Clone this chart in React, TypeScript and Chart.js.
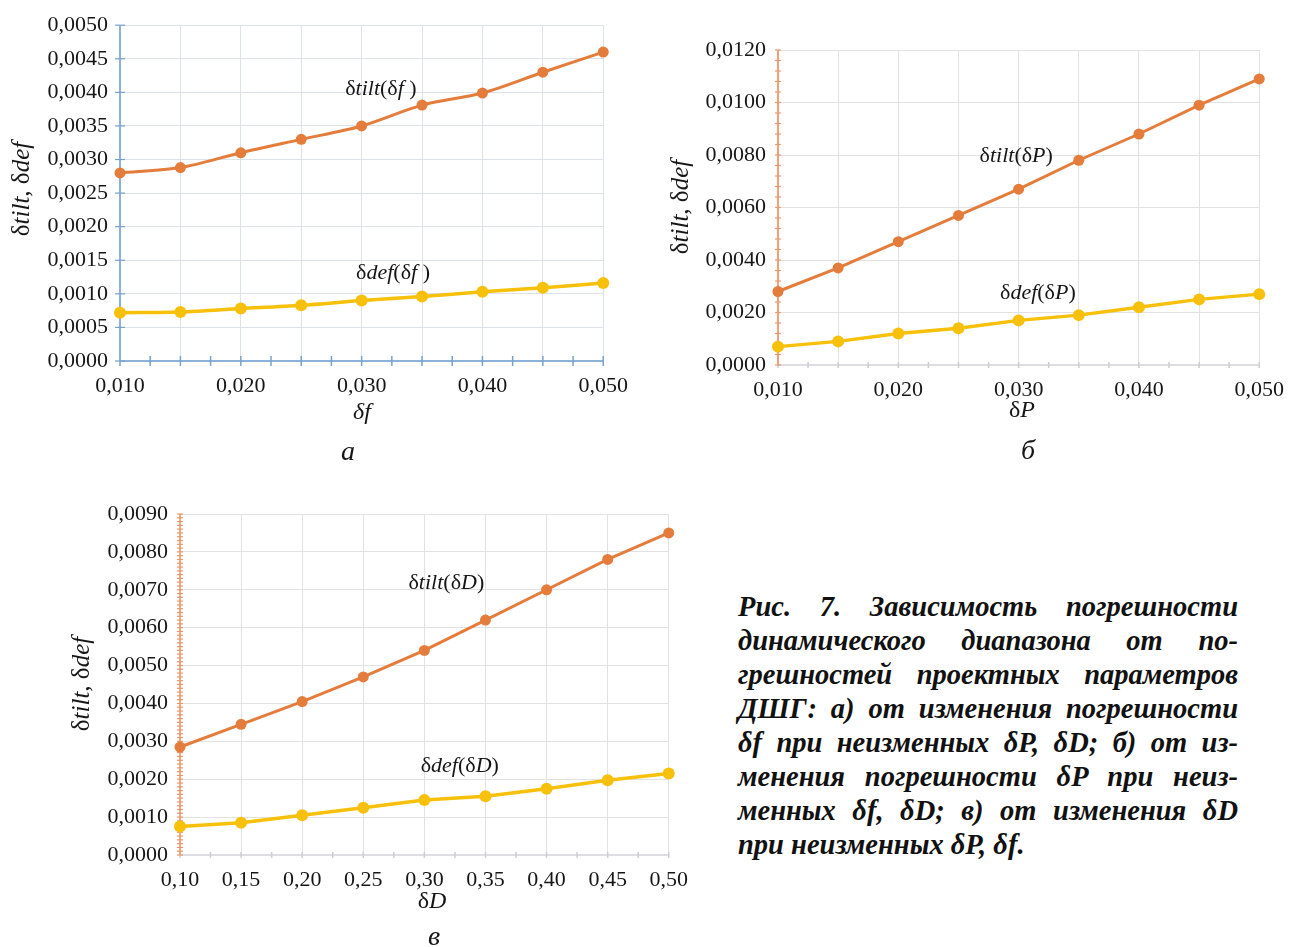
import React, { useEffect, useRef } from 'react';
import { Chart, registerables } from 'chart.js';
Chart.register(...registerables);

const FONT = '"Liberation Serif", "Times New Roman", serif';
const TILT_COLOR = 'rgb(228,124,60)';
const DEF_COLOR = 'rgb(247,192,10)';

// ---- Chart а: δtilt(δf), δdef(δf)
const A_X = [0.010, 0.015, 0.020, 0.025, 0.030, 0.035, 0.040, 0.045, 0.050];
const A_TILT = [0.0028, 0.00288, 0.0031, 0.0033, 0.0035, 0.00381, 0.00399, 0.0043, 0.0046];
const A_DEF = [0.00072, 0.00073, 0.00078, 0.00083, 0.0009, 0.00096, 0.00103, 0.00109, 0.00116];
const A_X_GRID = [0.010, 0.015, 0.020, 0.025, 0.030, 0.035, 0.040, 0.045, 0.050];
const A_X_LABELS = [0.010, 0.020, 0.030, 0.040, 0.050];
const A_Y_TICKS = [0, 0.0005, 0.001, 0.0015, 0.002, 0.0025, 0.003, 0.0035, 0.004, 0.0045, 0.005];

// ---- Chart б: δtilt(δP), δdef(δP)
const B_X = [0.010, 0.015, 0.020, 0.025, 0.030, 0.035, 0.040, 0.045, 0.050];
const B_TILT = [0.0028, 0.0037, 0.0047, 0.0057, 0.0067, 0.0078, 0.0088, 0.0099, 0.0109];
const B_DEF = [0.0007, 0.0009, 0.0012, 0.0014, 0.0017, 0.0019, 0.0022, 0.0025, 0.0027];
const B_X_GRID = [0.010, 0.015, 0.020, 0.025, 0.030, 0.035, 0.040, 0.045, 0.050];
const B_X_LABELS = [0.010, 0.020, 0.030, 0.040, 0.050];
const B_Y_TICKS = [0, 0.002, 0.004, 0.006, 0.008, 0.010, 0.012];

// ---- Chart в: δtilt(δD), δdef(δD)
const C_X = [0.10, 0.15, 0.20, 0.25, 0.30, 0.35, 0.40, 0.45, 0.50];
const C_TILT = [0.00285, 0.00345, 0.00405, 0.0047, 0.0054, 0.0062, 0.0070, 0.0078, 0.0085];
const C_DEF = [0.00075, 0.00085, 0.00105, 0.00125, 0.00145, 0.00155, 0.00175, 0.00197, 0.00215];
const C_X_GRID = [0.10, 0.15, 0.20, 0.25, 0.30, 0.35, 0.40, 0.45, 0.50];
const C_X_LABELS = [0.10, 0.15, 0.20, 0.25, 0.30, 0.35, 0.40, 0.45, 0.50];
const C_Y_TICKS = [0, 0.001, 0.002, 0.003, 0.004, 0.005, 0.006, 0.007, 0.008, 0.009];

const CAPTION_LINES = [
  'Рис. 7.  Зависимость  погрешности',
  'динамического  диапазона  от  по-',
  'грешностей проектных параметров',
  'ДШГ: а) от изменения погрешности',
  'δf при неизменных δP, δD; б) от из-',
  'менения погрешности δP при неиз-',
  'менных δf, δD; в) от изменения δD',
  'при неизменных δP, δf.',
];

type Run = { t: string; i?: boolean };

function drawRich(ctx: CanvasRenderingContext2D, runs: Run[], x: number, y: number, size: number, rotate = false) {
  ctx.save();
  ctx.translate(x, y);
  if (rotate) ctx.rotate(-Math.PI / 2);
  const fonts = runs.map((r) => `${r.i ? 'italic ' : ''}${size}px ${FONT}`);
  let total = 0;
  const widths = runs.map((r, k) => {
    ctx.font = fonts[k];
    const w = ctx.measureText(r.t).width;
    total += w;
    return w;
  });
  let cx = -total / 2;
  ctx.textBaseline = 'middle';
  ctx.textAlign = 'left';
  ctx.fillStyle = '#161616';
  runs.forEach((r, k) => {
    ctx.font = fonts[k];
    ctx.fillText(r.t, cx, 0);
    cx += widths[k];
  });
  ctx.restore();
}

const near = (v: number, list: number[]) => list.some((u) => Math.abs(u - v) < 1e-9);

type Cfg = {
  left: number; top: number; width: number; height: number;
  pad: { top: number; right: number; left: number; bottom: number };
  yW: number; xH: number;
  xs: number[]; tilt: number[]; def: number[];
  xGrid: number[]; xLabels: number[]; yTicks: number[];
  xMin: number; xMax: number; yMin: number; yMax: number;
  xDigits: number;
  yMinorStep: number; xMinorStep: number;
  yAxisColor: string; xAxisColor: string; xTickColor: string; yTickColor: string;
  yTickLen: number; xTickLen: number;
  gridColor: string;
  tension: number;
  notes: { x: number; y: number; runs: Run[] }[];
  yTitle: { x: number; y: number };
  xTitle: { x: number; y: number; runs: Run[] };
  sub: { x: number; y: number; t: string };
};

const YTITLE: Run[] = [{ t: 'δ' }, { t: 'tilt', i: true }, { t: ', δ' }, { t: 'def', i: true }];

const A: Cfg = {
  left: 0, top: 0, width: 640, height: 470,
  pad: { top: 17, right: 36, left: 0, bottom: 0 }, yW: 120, xH: 109,
  xs: A_X, tilt: A_TILT, def: A_DEF, xGrid: A_X_GRID, xLabels: A_X_LABELS, yTicks: A_Y_TICKS,
  xMin: 0.01, xMax: 0.05, yMin: 0, yMax: 0.005, xDigits: 3,
  yMinorStep: 0.0005, xMinorStep: 0.0025,
  yAxisColor: 'rgb(140,178,218)', xAxisColor: 'rgb(140,178,218)',
  yTickColor: 'rgb(120,160,205)', xTickColor: 'rgb(120,160,205)', yTickLen: 5, xTickLen: 5,
  gridColor: 'rgb(220,225,234)', tension: 0.3,
  notes: [
    { x: 0.0316, y: 0.00404, runs: [{ t: 'δ' }, { t: 'tilt', i: true }, { t: '(δ' }, { t: 'f', i: true }, { t: ' )' }] },
    { x: 0.0326, y: 0.00131, runs: [{ t: 'δ' }, { t: 'def', i: true }, { t: '(δ' }, { t: 'f', i: true }, { t: ' )' }] },
  ],
  yTitle: { x: 22, y: 189 },
  xTitle: { x: 362, y: 413, runs: [{ t: 'δ', i: true }, { t: 'f', i: true }] },
  sub: { x: 348, y: 453, t: 'а' },
};

const B: Cfg = {
  left: 650, top: 0, width: 646, height: 470,
  pad: { top: 50, right: 31, left: 0, bottom: 0 }, yW: 128, xH: 105,
  xs: B_X, tilt: B_TILT, def: B_DEF, xGrid: B_X_GRID, xLabels: B_X_LABELS, yTicks: B_Y_TICKS,
  xMin: 0.01, xMax: 0.05, yMin: 0, yMax: 0.012, xDigits: 3,
  yMinorStep: 0.0004, xMinorStep: 0.0025,
  yAxisColor: 'rgb(242,160,120)', xAxisColor: 'rgb(222,222,226)',
  yTickColor: 'rgb(236,150,110)', xTickColor: 'rgb(205,205,210)', yTickLen: 3, xTickLen: 3,
  gridColor: 'rgb(226,226,228)', tension: 0,
  notes: [
    { x: 0.0298, y: 0.00795, runs: [{ t: 'δ' }, { t: 'tilt', i: true }, { t: '(δ' }, { t: 'P', i: true }, { t: ')' }] },
    { x: 0.0316, y: 0.00272, runs: [{ t: 'δ' }, { t: 'def', i: true }, { t: '(δ' }, { t: 'P', i: true }, { t: ')' }] },
  ],
  yTitle: { x: 31, y: 207 },
  xTitle: { x: 372, y: 411, runs: [{ t: 'δ' }, { t: 'P', i: true }] },
  sub: { x: 378, y: 452, t: 'б' },
};

const C: Cfg = {
  left: 60, top: 480, width: 640, height: 467,
  pad: { top: 34, right: 31, left: 0, bottom: 0 }, yW: 120, xH: 92,
  xs: C_X, tilt: C_TILT, def: C_DEF, xGrid: C_X_GRID, xLabels: C_X_LABELS, yTicks: C_Y_TICKS,
  xMin: 0.1, xMax: 0.5, yMin: 0, yMax: 0.009, xDigits: 2,
  yMinorStep: 0.0001, xMinorStep: 0.025,
  yAxisColor: 'rgb(244,168,128)', xAxisColor: 'rgb(222,222,226)',
  yTickColor: 'rgb(236,150,110)', xTickColor: 'rgb(205,205,210)', yTickLen: 3, xTickLen: 3,
  gridColor: 'rgb(226,226,228)', tension: 0,
  notes: [
    { x: 0.318, y: 0.00718, runs: [{ t: 'δ' }, { t: 'tilt', i: true }, { t: '(δ' }, { t: 'D', i: true }, { t: ')' }] },
    { x: 0.329, y: 0.00235, runs: [{ t: 'δ' }, { t: 'def', i: true }, { t: '(δ' }, { t: 'D', i: true }, { t: ')' }] },
  ],
  yTitle: { x: 22, y: 204 },
  xTitle: { x: 372, y: 422, runs: [{ t: 'δ' }, { t: 'D', i: true }] },
  sub: { x: 374, y: 458, t: 'в' },
};

function Panel({ cfg }: { cfg: Cfg }) {
  const ref = useRef<HTMLCanvasElement>(null);
  useEffect(() => {
    const canvas = ref.current!;
    const line = (ctx: CanvasRenderingContext2D, x1: number, y1: number, x2: number, y2: number) => {
      ctx.beginPath();
      ctx.moveTo(x1, y1);
      ctx.lineTo(x2, y2);
      ctx.stroke();
    };
    const axesPlugin = {
      id: 'axesDeco',
      beforeDatasetsDraw(chart: any) {
        const ctx = chart.ctx as CanvasRenderingContext2D;
        const { left, right, top, bottom } = chart.chartArea;
        const xs = chart.scales.x, ys = chart.scales.y;
        ctx.save();
        ctx.strokeStyle = cfg.xAxisColor;
        ctx.lineWidth = 2;
        line(ctx, left, bottom, right, bottom);
        ctx.strokeStyle = cfg.xTickColor;
        ctx.lineWidth = 1.5;
        const nx = Math.round((cfg.xMax - cfg.xMin) / cfg.xMinorStep);
        for (let k = 0; k <= nx; k++) {
          const px = xs.getPixelForValue(cfg.xMin + k * cfg.xMinorStep);
          line(ctx, px, bottom - cfg.xTickLen, px, bottom + cfg.xTickLen);
        }
        ctx.strokeStyle = cfg.yAxisColor;
        ctx.lineWidth = 2;
        line(ctx, left, top, left, bottom);
        ctx.strokeStyle = cfg.yTickColor;
        ctx.lineWidth = 1.2;
        const ny = Math.round((cfg.yMax - cfg.yMin) / cfg.yMinorStep);
        for (let k = 0; k <= ny; k++) {
          const py = ys.getPixelForValue(cfg.yMin + k * cfg.yMinorStep);
          line(ctx, left - cfg.yTickLen, py, left + cfg.yTickLen, py);
        }
        ctx.restore();
      },
      afterDraw(chart: any) {
        const ctx = chart.ctx as CanvasRenderingContext2D;
        const xs = chart.scales.x, ys = chart.scales.y;
        cfg.notes.forEach((n) => drawRich(ctx, n.runs, xs.getPixelForValue(n.x), ys.getPixelForValue(n.y), 22));
        drawRich(ctx, YTITLE, cfg.yTitle.x, cfg.yTitle.y, 25, true);
        drawRich(ctx, cfg.xTitle.runs, cfg.xTitle.x, cfg.xTitle.y, 24);
        drawRich(ctx, [{ t: cfg.sub.t, i: true }], cfg.sub.x, cfg.sub.y, 28);
      },
    };
    const mk = (vals: number[]) => cfg.xs.map((x, i) => ({ x, y: vals[i] }));
    const chart = new Chart(canvas, {
      type: 'line',
      data: {
        datasets: [
          {
            data: mk(cfg.tilt), borderColor: TILT_COLOR, backgroundColor: TILT_COLOR,
            borderWidth: 3, pointRadius: 5.5, pointBorderWidth: 0, tension: cfg.tension, clip: false,
          } as any,
          {
            data: mk(cfg.def), borderColor: DEF_COLOR, backgroundColor: DEF_COLOR,
            borderWidth: 3.5, pointRadius: 6, pointBorderWidth: 0, tension: cfg.tension, clip: false,
          } as any,
        ],
      },
      options: {
        responsive: false,
        animation: false,
        devicePixelRatio: 1,
        layout: { padding: cfg.pad },
        plugins: { legend: { display: false }, tooltip: { enabled: false } },
        scales: {
          x: {
            type: 'linear', min: cfg.xMin, max: cfg.xMax,
            afterBuildTicks: (s: any) => { s.ticks = cfg.xGrid.map((v) => ({ value: v })); },
            afterFit: (s: any) => { s.height = cfg.xH; },
            border: { display: false },
            grid: { color: cfg.gridColor, lineWidth: 1, drawTicks: false },
            ticks: {
              autoSkip: false, maxRotation: 0, padding: 12, color: '#161616',
              font: { family: FONT, size: 22 },
              callback: (v: any) => (near(Number(v), cfg.xLabels) ? Number(v).toFixed(cfg.xDigits).replace('.', ',') : ''),
            },
          },
          y: {
            type: 'linear', min: cfg.yMin, max: cfg.yMax,
            afterBuildTicks: (s: any) => { s.ticks = cfg.yTicks.map((v) => ({ value: v })); },
            afterFit: (s: any) => { s.width = cfg.yW; },
            border: { display: false },
            grid: { color: cfg.gridColor, lineWidth: 1, drawTicks: false },
            ticks: {
              autoSkip: false, padding: 12, color: '#161616',
              font: { family: FONT, size: 22 },
              callback: (v: any) => Number(v).toFixed(4).replace('.', ','),
            },
          },
        },
      } as any,
      plugins: [axesPlugin],
    });
    return () => chart.destroy();
  }, [cfg]);
  return (
    <canvas
      ref={ref}
      width={cfg.width}
      height={cfg.height}
      style={{ position: 'absolute', left: cfg.left, top: cfg.top, width: cfg.width, height: cfg.height }}
    />
  );
}

export default function App() {
  const n = CAPTION_LINES.length;
  return (
    <div style={{ position: 'absolute', left: 0, top: 0, width: 1296, height: 947, background: '#fff', overflow: 'hidden' }}>
      <Panel cfg={A} />
      <Panel cfg={B} />
      <Panel cfg={C} />
      <div
        style={{
          position: 'absolute', left: 738, top: 590, width: 500,
          fontFamily: FONT, fontStyle: 'italic', fontWeight: 'bold', fontSize: 28.5, lineHeight: '34px', color: '#111',
        }}
      >
        {CAPTION_LINES.map((l, i) => (
          <div key={i} style={{ textAlign: i < n - 1 ? 'justify' : 'left', textAlignLast: i < n - 1 ? 'justify' : 'left' }}>
            {l}
          </div>
        ))}
      </div>
    </div>
  );
}
